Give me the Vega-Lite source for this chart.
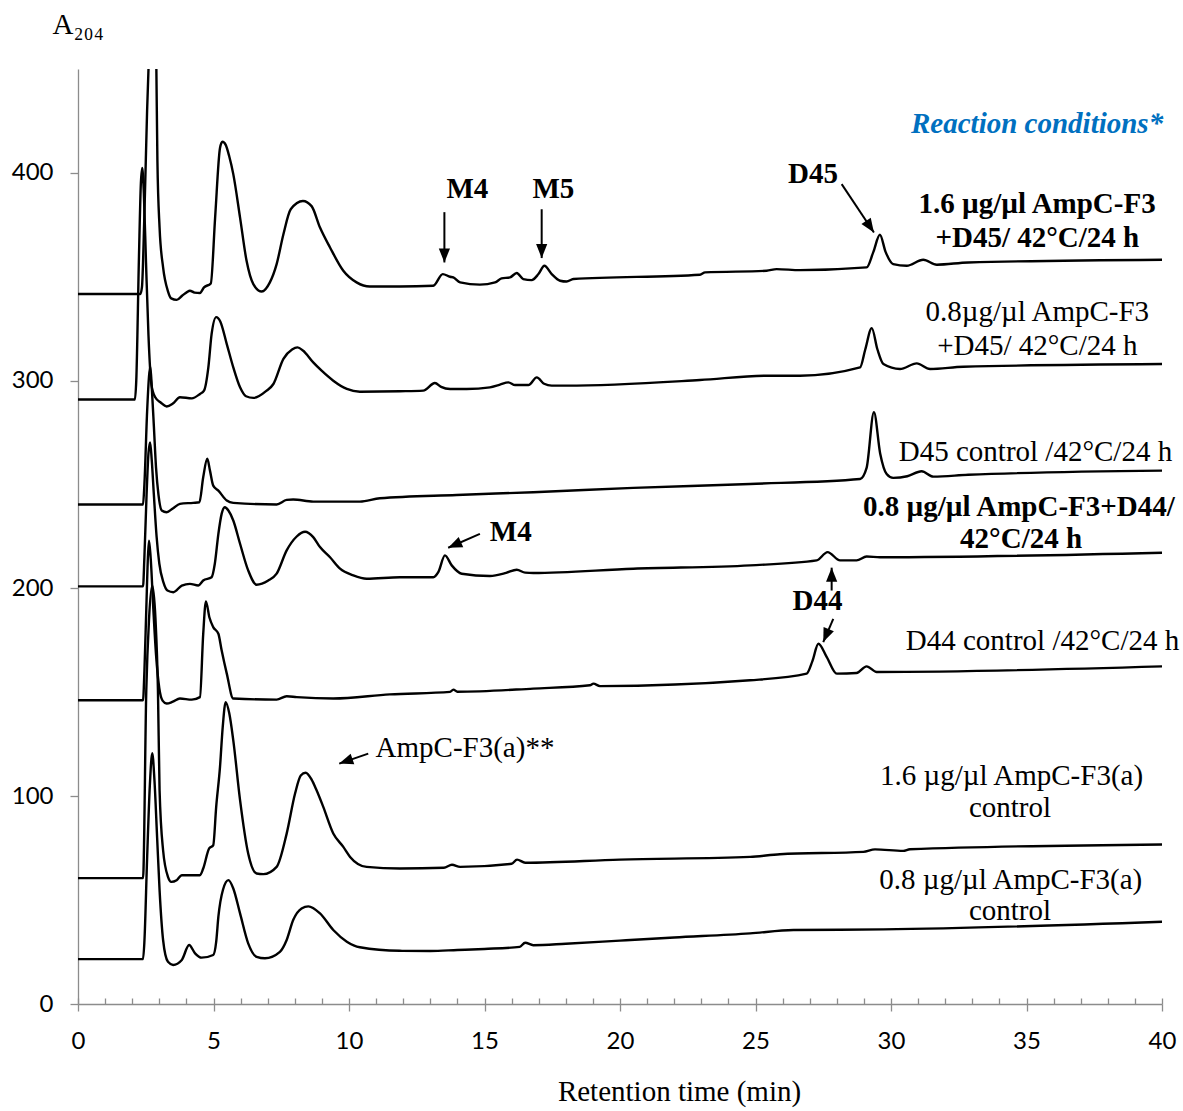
{
  "$schema": "https://vega.github.io/schema/vega-lite/v6.json",
  "width": 1084,
  "height": 935,
  "autosize": {"type": "none"},
  "padding": {"left": 78, "top": 69, "right": 21, "bottom": 107},
  "background": "white",
  "config": {"view": {"stroke": null}, "axis": {"grid": false}},
  "datasets": {
    "traces": [
      {"trace":"1.6+D45","time":0,"abs":341.7},{"trace":"1.6+D45","time":2.30,"abs":341.7},{"trace":"1.6+D45","time":2.36,"abs":345},{"trace":"1.6+D45","time":2.45,"abs":380},{"trace":"1.6+D45","time":2.55,"abs":430},{"trace":"1.6+D45","time":2.64,"abs":465},{"trace":"1.6+D45","time":2.77,"abs":530},{"trace":"1.6+D45","time":2.89,"abs":452},{"trace":"1.6+D45","time":2.93,"abs":406},{"trace":"1.6+D45","time":3.01,"abs":373.7},{"trace":"1.6+D45","time":3.14,"abs":354.5},{"trace":"1.6+D45","time":3.32,"abs":343},{"trace":"1.6+D45","time":3.44,"abs":339.6},{"trace":"1.6+D45","time":3.64,"abs":338.9},{"trace":"1.6+D45","time":3.85,"abs":341},{"trace":"1.6+D45","time":4.01,"abs":342.5},{"trace":"1.6+D45","time":4.13,"abs":343.3},{"trace":"1.6+D45","time":4.3,"abs":342.4},{"trace":"1.6+D45","time":4.5,"abs":342.2},{"trace":"1.6+D45","time":4.65,"abs":344.9},{"trace":"1.6+D45","time":4.9,"abs":346.8},{"trace":"1.6+D45","time":5.06,"abs":378.5},{"trace":"1.6+D45","time":5.24,"abs":412},{"trace":"1.6+D45","time":5.33,"abs":415},{"trace":"1.6+D45","time":5.45,"abs":413.5},{"trace":"1.6+D45","time":5.58,"abs":408},{"trace":"1.6+D45","time":5.73,"abs":399.4},{"trace":"1.6+D45","time":5.98,"abs":378.5},{"trace":"1.6+D45","time":6.22,"abs":357.7},{"trace":"1.6+D45","time":6.47,"abs":346.5},{"trace":"1.6+D45","time":6.78,"abs":342.9},{"trace":"1.6+D45","time":7.08,"abs":347.3},{"trace":"1.6+D45","time":7.33,"abs":356.1},{"trace":"1.6+D45","time":7.58,"abs":370.5},{"trace":"1.6+D45","time":7.85,"abs":382.5},{"trace":"1.6+D45","time":8.3,"abs":386.5},{"trace":"1.6+D45","time":8.62,"abs":384},{"trace":"1.6+D45","time":8.93,"abs":373.7},{"trace":"1.6+D45","time":9.30,"abs":364.1},{"trace":"1.6+D45","time":9.79,"abs":352.9},{"trace":"1.6+D45","time":10.28,"abs":347.3},{"trace":"1.6+D45","time":10.77,"abs":345.3},{"trace":"1.6+D45","time":11.88,"abs":345.3},{"trace":"1.6+D45","time":13.11,"abs":345.7},{"trace":"1.6+D45","time":13.46,"abs":351.3},{"trace":"1.6+D45","time":13.73,"abs":350},{"trace":"1.6+D45","time":13.85,"abs":349.7},{"trace":"1.6+D45","time":14.1,"abs":347.3},{"trace":"1.6+D45","time":14.83,"abs":346.2},{"trace":"1.6+D45","time":15.39,"abs":347.3},{"trace":"1.6+D45","time":15.63,"abs":349.2},{"trace":"1.6+D45","time":15.94,"abs":349.7},{"trace":"1.6+D45","time":16.19,"abs":351.8},{"trace":"1.6+D45","time":16.43,"abs":348.9},{"trace":"1.6+D45","time":16.74,"abs":348.4},{"trace":"1.6+D45","time":16.99,"abs":351.3},{"trace":"1.6+D45","time":17.21,"abs":355.3},{"trace":"1.6+D45","time":17.48,"abs":351.3},{"trace":"1.6+D45","time":17.79,"abs":348.1},{"trace":"1.6+D45","time":18.03,"abs":347.7},{"trace":"1.6+D45","time":18.28,"abs":348.9},{"trace":"1.6+D45","time":22.95,"abs":351},{"trace":"1.6+D45","time":23.14,"abs":352.1},{"trace":"1.6+D45","time":25.41,"abs":352.9},{"trace":"1.6+D45","time":25.78,"abs":353.7},{"trace":"1.6+D45","time":26.64,"abs":353.2},{"trace":"1.6+D45","time":29.1,"abs":354.5},{"trace":"1.6+D45","time":29.35,"abs":362},{"trace":"1.6+D45","time":29.59,"abs":370.2},{"trace":"1.6+D45","time":29.8,"abs":362},{"trace":"1.6+D45","time":30.08,"abs":356.1},{"trace":"1.6+D45","time":30.58,"abs":355.3},{"trace":"1.6+D45","time":31.19,"abs":358.2},{"trace":"1.6+D45","time":31.69,"abs":355.8},{"trace":"1.6+D45","time":32.85,"abs":356.9},{"trace":"1.6+D45","time":40,"abs":358.2},

      {"trace":"0.8+D45","time":0,"abs":290.9},{"trace":"0.8+D45","time":2.10,"abs":290.9},{"trace":"0.8+D45","time":2.15,"abs":300},{"trace":"0.8+D45","time":2.25,"abs":360},{"trace":"0.8+D45","time":2.32,"abs":395},{"trace":"0.8+D45","time":2.37,"abs":402.4},{"trace":"0.8+D45","time":2.43,"abs":390},{"trace":"0.8+D45","time":2.51,"abs":356.7},{"trace":"0.8+D45","time":2.60,"abs":322},{"trace":"0.8+D45","time":2.71,"abs":298},{"trace":"0.8+D45","time":2.85,"abs":292},{"trace":"0.8+D45","time":3.05,"abs":289.5},{"trace":"0.8+D45","time":3.27,"abs":287.6},{"trace":"0.8+D45","time":3.5,"abs":289},{"trace":"0.8+D45","time":3.76,"abs":292},{"trace":"0.8+D45","time":4.2,"abs":291.5},{"trace":"0.8+D45","time":4.5,"abs":293.6},{"trace":"0.8+D45","time":4.65,"abs":295.2},{"trace":"0.8+D45","time":4.81,"abs":306.4},{"trace":"0.8+D45","time":4.93,"abs":322.4},{"trace":"0.8+D45","time":5.1,"abs":330.6},{"trace":"0.8+D45","time":5.25,"abs":328.5},{"trace":"0.8+D45","time":5.49,"abs":317.6},{"trace":"0.8+D45","time":5.73,"abs":306.4},{"trace":"0.8+D45","time":5.98,"abs":296.8},{"trace":"0.8+D45","time":6.2,"abs":292.5},{"trace":"0.8+D45","time":6.47,"abs":291.7},{"trace":"0.8+D45","time":6.96,"abs":295.2},{"trace":"0.8+D45","time":7.21,"abs":298.4},{"trace":"0.8+D45","time":7.58,"abs":310.5},{"trace":"0.8+D45","time":7.9,"abs":315},{"trace":"0.8+D45","time":8.1,"abs":316},{"trace":"0.8+D45","time":8.3,"abs":314.5},{"trace":"0.8+D45","time":8.68,"abs":308.8},{"trace":"0.8+D45","time":8.99,"abs":304.8},{"trace":"0.8+D45","time":9.42,"abs":300},{"trace":"0.8+D45","time":9.92,"abs":296},{"trace":"0.8+D45","time":10.4,"abs":294.7},{"trace":"0.8+D45","time":11.88,"abs":294.9},{"trace":"0.8+D45","time":12.74,"abs":295.2},{"trace":"0.8+D45","time":13.17,"abs":298.9},{"trace":"0.8+D45","time":13.4,"abs":297},{"trace":"0.8+D45","time":13.73,"abs":296},{"trace":"0.8+D45","time":14.34,"abs":296},{"trace":"0.8+D45","time":15.2,"abs":296.8},{"trace":"0.8+D45","time":15.57,"abs":298.1},{"trace":"0.8+D45","time":15.88,"abs":299.2},{"trace":"0.8+D45","time":16.13,"abs":297.9},{"trace":"0.8+D45","time":16.62,"abs":297.9},{"trace":"0.8+D45","time":16.93,"abs":301.6},{"trace":"0.8+D45","time":17.2,"abs":298.5},{"trace":"0.8+D45","time":17.48,"abs":297.6},{"trace":"0.8+D45","time":18.03,"abs":297.6},{"trace":"0.8+D45","time":22.95,"abs":300.3},{"trace":"0.8+D45","time":25.41,"abs":302.4},{"trace":"0.8+D45","time":26.64,"abs":302.4},{"trace":"0.8+D45","time":28.86,"abs":306.4},{"trace":"0.8+D45","time":29.05,"abs":315},{"trace":"0.8+D45","time":29.29,"abs":325.3},{"trace":"0.8+D45","time":29.5,"abs":315},{"trace":"0.8+D45","time":29.72,"abs":308},{"trace":"0.8+D45","time":30.33,"abs":305.6},{"trace":"0.8+D45","time":30.95,"abs":308.3},{"trace":"0.8+D45","time":31.44,"abs":305.6},{"trace":"0.8+D45","time":32.67,"abs":306.7},{"trace":"0.8+D45","time":40,"abs":308},

      {"trace":"D45 ctrl","time":0,"abs":240.4},{"trace":"D45 ctrl","time":2.40,"abs":240.4},{"trace":"D45 ctrl","time":2.45,"abs":250},{"trace":"D45 ctrl","time":2.55,"abs":285},{"trace":"D45 ctrl","time":2.62,"abs":302},{"trace":"D45 ctrl","time":2.67,"abs":306.7},{"trace":"D45 ctrl","time":2.73,"abs":295},{"trace":"D45 ctrl","time":2.8,"abs":278},{"trace":"D45 ctrl","time":2.88,"abs":258},{"trace":"D45 ctrl","time":2.97,"abs":245},{"trace":"D45 ctrl","time":3.09,"abs":237.5},{"trace":"D45 ctrl","time":3.27,"abs":236.7},{"trace":"D45 ctrl","time":3.5,"abs":238.5},{"trace":"D45 ctrl","time":3.76,"abs":240.7},{"trace":"D45 ctrl","time":4.25,"abs":241.2},{"trace":"D45 ctrl","time":4.48,"abs":241.5},{"trace":"D45 ctrl","time":4.62,"abs":253.5},{"trace":"D45 ctrl","time":4.77,"abs":262.4},{"trace":"D45 ctrl","time":4.87,"abs":256.7},{"trace":"D45 ctrl","time":4.99,"abs":249.5},{"trace":"D45 ctrl","time":5.18,"abs":247.1},{"trace":"D45 ctrl","time":5.49,"abs":242.3},{"trace":"D45 ctrl","time":5.73,"abs":241.2},{"trace":"D45 ctrl","time":7.33,"abs":240.4},{"trace":"D45 ctrl","time":7.7,"abs":242.6},{"trace":"D45 ctrl","time":7.94,"abs":242.8},{"trace":"D45 ctrl","time":8.68,"abs":241.8},{"trace":"D45 ctrl","time":10.4,"abs":241.8},{"trace":"D45 ctrl","time":11.14,"abs":243.4},{"trace":"D45 ctrl","time":13.97,"abs":245},{"trace":"D45 ctrl","time":16.8,"abs":246.3},{"trace":"D45 ctrl","time":20.49,"abs":248.4},{"trace":"D45 ctrl","time":24.8,"abs":250.3},{"trace":"D45 ctrl","time":28.86,"abs":252.7},{"trace":"D45 ctrl","time":29.1,"abs":258},{"trace":"D45 ctrl","time":29.37,"abs":284.8},{"trace":"D45 ctrl","time":29.6,"abs":265},{"trace":"D45 ctrl","time":29.84,"abs":255.1},{"trace":"D45 ctrl","time":30.08,"abs":253.2},{"trace":"D45 ctrl","time":30.6,"abs":254},{"trace":"D45 ctrl","time":31.13,"abs":256.4},{"trace":"D45 ctrl","time":31.56,"abs":253.8},{"trace":"D45 ctrl","time":32.85,"abs":254.7},{"trace":"D45 ctrl","time":40,"abs":256.7},

      {"trace":"0.8+D44","time":0,"abs":201},{"trace":"0.8+D44","time":2.40,"abs":201},{"trace":"0.8+D44","time":2.45,"abs":215},{"trace":"0.8+D44","time":2.53,"abs":245},{"trace":"0.8+D44","time":2.60,"abs":265},{"trace":"0.8+D44","time":2.66,"abs":270.3},{"trace":"0.8+D44","time":2.72,"abs":262},{"trace":"0.8+D44","time":2.8,"abs":245},{"trace":"0.8+D44","time":2.9,"abs":225},{"trace":"0.8+D44","time":3.0,"abs":212},{"trace":"0.8+D44","time":3.15,"abs":203},{"trace":"0.8+D44","time":3.3,"abs":199},{"trace":"0.8+D44","time":3.52,"abs":198.2},{"trace":"0.8+D44","time":3.83,"abs":201.4},{"trace":"0.8+D44","time":4.13,"abs":202.2},{"trace":"0.8+D44","time":4.44,"abs":201.4},{"trace":"0.8+D44","time":4.62,"abs":203.8},{"trace":"0.8+D44","time":4.93,"abs":205.4},{"trace":"0.8+D44","time":5.05,"abs":212},{"trace":"0.8+D44","time":5.18,"abs":226.3},{"trace":"0.8+D44","time":5.3,"abs":235.9},{"trace":"0.8+D44","time":5.42,"abs":239.1},{"trace":"0.8+D44","time":5.55,"abs":237.5},{"trace":"0.8+D44","time":5.73,"abs":232.7},{"trace":"0.8+D44","time":5.98,"abs":221.5},{"trace":"0.8+D44","time":6.28,"abs":208.7},{"trace":"0.8+D44","time":6.59,"abs":201.8},{"trace":"0.8+D44","time":7.02,"abs":203.8},{"trace":"0.8+D44","time":7.33,"abs":207.1},{"trace":"0.8+D44","time":7.7,"abs":218.3},{"trace":"0.8+D44","time":8.07,"abs":225},{"trace":"0.8+D44","time":8.38,"abs":227.3},{"trace":"0.8+D44","time":8.68,"abs":224.7},{"trace":"0.8+D44","time":8.93,"abs":219.9},{"trace":"0.8+D44","time":9.3,"abs":215},{"trace":"0.8+D44","time":9.67,"abs":209.5},{"trace":"0.8+D44","time":10.16,"abs":206.3},{"trace":"0.8+D44","time":10.65,"abs":204.7},{"trace":"0.8+D44","time":11.88,"abs":205.4},{"trace":"0.8+D44","time":13.11,"abs":205.4},{"trace":"0.8+D44","time":13.3,"abs":208},{"trace":"0.8+D44","time":13.54,"abs":215.9},{"trace":"0.8+D44","time":13.79,"abs":211.1},{"trace":"0.8+D44","time":14.16,"abs":207.1},{"trace":"0.8+D44","time":15.2,"abs":206},{"trace":"0.8+D44","time":15.8,"abs":207.5},{"trace":"0.8+D44","time":16.19,"abs":209},{"trace":"0.8+D44","time":16.5,"abs":207.6},{"trace":"0.8+D44","time":16.8,"abs":207.4},{"trace":"0.8+D44","time":20.49,"abs":209.5},{"trace":"0.8+D44","time":24.8,"abs":211.1},{"trace":"0.8+D44","time":27.26,"abs":213.5},{"trace":"0.8+D44","time":27.66,"abs":217.5},{"trace":"0.8+D44","time":28.12,"abs":213.5},{"trace":"0.8+D44","time":28.73,"abs":213.5},{"trace":"0.8+D44","time":29.1,"abs":215.4},{"trace":"0.8+D44","time":29.59,"abs":215},{"trace":"0.8+D44","time":40,"abs":217.2},

      {"trace":"D44 ctrl","time":0,"abs":146.2},{"trace":"D44 ctrl","time":2.40,"abs":146.2},{"trace":"D44 ctrl","time":2.45,"abs":160},{"trace":"D44 ctrl","time":2.52,"abs":190},{"trace":"D44 ctrl","time":2.58,"abs":215},{"trace":"D44 ctrl","time":2.62,"abs":223},{"trace":"D44 ctrl","time":2.68,"abs":215},{"trace":"D44 ctrl","time":2.78,"abs":190},{"trace":"D44 ctrl","time":2.88,"abs":168},{"trace":"D44 ctrl","time":3.0,"abs":152},{"trace":"D44 ctrl","time":3.12,"abs":146},{"trace":"D44 ctrl","time":3.27,"abs":144.6},{"trace":"D44 ctrl","time":3.5,"abs":145.5},{"trace":"D44 ctrl","time":3.76,"abs":147},{"trace":"D44 ctrl","time":4.2,"abs":146.5},{"trace":"D44 ctrl","time":4.5,"abs":147.7},{"trace":"D44 ctrl","time":4.62,"abs":178},{"trace":"D44 ctrl","time":4.72,"abs":193.8},{"trace":"D44 ctrl","time":4.85,"abs":186},{"trace":"D44 ctrl","time":4.99,"abs":181.4},{"trace":"D44 ctrl","time":5.18,"abs":178.2},{"trace":"D44 ctrl","time":5.3,"abs":170.2},{"trace":"D44 ctrl","time":5.49,"abs":159},{"trace":"D44 ctrl","time":5.73,"abs":147},{"trace":"D44 ctrl","time":7.33,"abs":146.5},{"trace":"D44 ctrl","time":7.7,"abs":148.1},{"trace":"D44 ctrl","time":8.07,"abs":147.7},{"trace":"D44 ctrl","time":9.42,"abs":147},{"trace":"D44 ctrl","time":11.51,"abs":149},{"trace":"D44 ctrl","time":13.73,"abs":150.2},{"trace":"D44 ctrl","time":13.85,"abs":151.3},{"trace":"D44 ctrl","time":14.0,"abs":150.3},{"trace":"D44 ctrl","time":16.8,"abs":151.8},{"trace":"D44 ctrl","time":18.89,"abs":153.4},{"trace":"D44 ctrl","time":19.02,"abs":154.2},{"trace":"D44 ctrl","time":19.26,"abs":153},{"trace":"D44 ctrl","time":24.8,"abs":155.8},{"trace":"D44 ctrl","time":26.89,"abs":159},{"trace":"D44 ctrl","time":27.1,"abs":165},{"trace":"D44 ctrl","time":27.32,"abs":173.4},{"trace":"D44 ctrl","time":27.63,"abs":167},{"trace":"D44 ctrl","time":28.0,"abs":159},{"trace":"D44 ctrl","time":28.73,"abs":159.3},{"trace":"D44 ctrl","time":29.1,"abs":162.5},{"trace":"D44 ctrl","time":29.47,"abs":159.8},{"trace":"D44 ctrl","time":40,"abs":162.5},

      {"trace":"1.6 F3a ctrl","time":0,"abs":60.6},{"trace":"1.6 F3a ctrl","time":2.40,"abs":60.6},{"trace":"1.6 F3a ctrl","time":2.52,"abs":151},{"trace":"1.6 F3a ctrl","time":2.62,"abs":185},{"trace":"1.6 F3a ctrl","time":2.74,"abs":201.4},{"trace":"1.6 F3a ctrl","time":2.86,"abs":185},{"trace":"1.6 F3a ctrl","time":2.95,"abs":151},{"trace":"1.6 F3a ctrl","time":3.01,"abs":102.9},{"trace":"1.6 F3a ctrl","time":3.14,"abs":74},{"trace":"1.6 F3a ctrl","time":3.32,"abs":61.2},{"trace":"1.6 F3a ctrl","time":3.44,"abs":58.8},{"trace":"1.6 F3a ctrl","time":3.64,"abs":59.6},{"trace":"1.6 F3a ctrl","time":3.83,"abs":62},{"trace":"1.6 F3a ctrl","time":4.5,"abs":62},{"trace":"1.6 F3a ctrl","time":4.62,"abs":65.2},{"trace":"1.6 F3a ctrl","time":4.84,"abs":74.9},{"trace":"1.6 F3a ctrl","time":4.99,"abs":76.4},{"trace":"1.6 F3a ctrl","time":5.1,"abs":95},{"trace":"1.6 F3a ctrl","time":5.24,"abs":114.1},{"trace":"1.6 F3a ctrl","time":5.34,"abs":133.3},{"trace":"1.6 F3a ctrl","time":5.45,"abs":145.3},{"trace":"1.6 F3a ctrl","time":5.58,"abs":140},{"trace":"1.6 F3a ctrl","time":5.73,"abs":126.9},{"trace":"1.6 F3a ctrl","time":5.98,"abs":98.1},{"trace":"1.6 F3a ctrl","time":6.28,"abs":72.4},{"trace":"1.6 F3a ctrl","time":6.59,"abs":62.8},{"trace":"1.6 F3a ctrl","time":6.84,"abs":62.5},{"trace":"1.6 F3a ctrl","time":7.33,"abs":66},{"trace":"1.6 F3a ctrl","time":7.7,"abs":82},{"trace":"1.6 F3a ctrl","time":8.01,"abs":101.3},{"trace":"1.6 F3a ctrl","time":8.22,"abs":110},{"trace":"1.6 F3a ctrl","time":8.4,"abs":111.3},{"trace":"1.6 F3a ctrl","time":8.62,"abs":108},{"trace":"1.6 F3a ctrl","time":8.8,"abs":103},{"trace":"1.6 F3a ctrl","time":9.05,"abs":94.9},{"trace":"1.6 F3a ctrl","time":9.42,"abs":82.1},{"trace":"1.6 F3a ctrl","time":9.79,"abs":75.6},{"trace":"1.6 F3a ctrl","time":10.04,"abs":70.8},{"trace":"1.6 F3a ctrl","time":10.65,"abs":66},{"trace":"1.6 F3a ctrl","time":11.88,"abs":65.2},{"trace":"1.6 F3a ctrl","time":13.5,"abs":65.6},{"trace":"1.6 F3a ctrl","time":13.8,"abs":67},{"trace":"1.6 F3a ctrl","time":14.1,"abs":66},{"trace":"1.6 F3a ctrl","time":16.0,"abs":67.5},{"trace":"1.6 F3a ctrl","time":16.2,"abs":69.5},{"trace":"1.6 F3a ctrl","time":16.5,"abs":68},{"trace":"1.6 F3a ctrl","time":20,"abs":69.5},{"trace":"1.6 F3a ctrl","time":24.8,"abs":70.8},{"trace":"1.6 F3a ctrl","time":25.9,"abs":72.1},{"trace":"1.6 F3a ctrl","time":28.98,"abs":73.2},{"trace":"1.6 F3a ctrl","time":29.41,"abs":74.4},{"trace":"1.6 F3a ctrl","time":30.45,"abs":73.7},{"trace":"1.6 F3a ctrl","time":30.7,"abs":74.5},{"trace":"1.6 F3a ctrl","time":40,"abs":76.8},

      {"trace":"0.8 F3a ctrl","time":0,"abs":21.6},{"trace":"0.8 F3a ctrl","time":2.40,"abs":21.6},{"trace":"0.8 F3a ctrl","time":2.45,"abs":30},{"trace":"0.8 F3a ctrl","time":2.55,"abs":70},{"trace":"0.8 F3a ctrl","time":2.65,"abs":105},{"trace":"0.8 F3a ctrl","time":2.74,"abs":120.7},{"trace":"0.8 F3a ctrl","time":2.82,"abs":108},{"trace":"0.8 F3a ctrl","time":2.92,"abs":80},{"trace":"0.8 F3a ctrl","time":3.01,"abs":54.8},{"trace":"0.8 F3a ctrl","time":3.14,"abs":30.8},{"trace":"0.8 F3a ctrl","time":3.32,"abs":20.3},{"trace":"0.8 F3a ctrl","time":3.51,"abs":18.8},{"trace":"0.8 F3a ctrl","time":3.83,"abs":21.2},{"trace":"0.8 F3a ctrl","time":4.1,"abs":28.4},{"trace":"0.8 F3a ctrl","time":4.32,"abs":24.4},{"trace":"0.8 F3a ctrl","time":4.56,"abs":22.3},{"trace":"0.8 F3a ctrl","time":4.99,"abs":23.6},{"trace":"0.8 F3a ctrl","time":5.1,"abs":30},{"trace":"0.8 F3a ctrl","time":5.18,"abs":42},{"trace":"0.8 F3a ctrl","time":5.35,"abs":55},{"trace":"0.8 F3a ctrl","time":5.55,"abs":59.6},{"trace":"0.8 F3a ctrl","time":5.73,"abs":55.6},{"trace":"0.8 F3a ctrl","time":5.98,"abs":43.6},{"trace":"0.8 F3a ctrl","time":6.28,"abs":29.2},{"trace":"0.8 F3a ctrl","time":6.59,"abs":22.7},{"trace":"0.8 F3a ctrl","time":6.9,"abs":22},{"trace":"0.8 F3a ctrl","time":7.45,"abs":25.1},{"trace":"0.8 F3a ctrl","time":7.7,"abs":30.8},{"trace":"0.8 F3a ctrl","time":7.94,"abs":40.4},{"trace":"0.8 F3a ctrl","time":8.25,"abs":46},{"trace":"0.8 F3a ctrl","time":8.5,"abs":47},{"trace":"0.8 F3a ctrl","time":8.93,"abs":43.6},{"trace":"0.8 F3a ctrl","time":9.42,"abs":35.6},{"trace":"0.8 F3a ctrl","time":9.92,"abs":30},{"trace":"0.8 F3a ctrl","time":10.4,"abs":27.3},{"trace":"0.8 F3a ctrl","time":11.88,"abs":25.6},{"trace":"0.8 F3a ctrl","time":13,"abs":25.5},{"trace":"0.8 F3a ctrl","time":14,"abs":26},{"trace":"0.8 F3a ctrl","time":15,"abs":26.5},{"trace":"0.8 F3a ctrl","time":16.3,"abs":27.5},{"trace":"0.8 F3a ctrl","time":16.5,"abs":29.5},{"trace":"0.8 F3a ctrl","time":16.8,"abs":28.3},{"trace":"0.8 F3a ctrl","time":18,"abs":29},{"trace":"0.8 F3a ctrl","time":20,"abs":30.5},{"trace":"0.8 F3a ctrl","time":22,"abs":32},{"trace":"0.8 F3a ctrl","time":24.8,"abs":34},{"trace":"0.8 F3a ctrl","time":26.4,"abs":35.6},{"trace":"0.8 F3a ctrl","time":29.72,"abs":35.9},{"trace":"0.8 F3a ctrl","time":40,"abs":39.6}
    ],
    "labelsRegular": [
      {"text":"0.8µg/µl AmpC-F3","time":35.4,"abs":333.2},
      {"text":"+D45/ 42°C/24 h","time":35.4,"abs":316.8},
      {"text":"D45 control /42°C/24 h","time":35.33,"abs":265.9},
      {"text":"D44 control /42°C/24 h","time":35.59,"abs":174.5},
      {"text":"1.6 µg/µl AmpC-F3(a)","time":34.45,"abs":109.6},
      {"text":"control","time":34.39,"abs":94.2},
      {"text":"0.8 µg/µl AmpC-F3(a)","time":34.42,"abs":59.6},
      {"text":"control","time":34.39,"abs":44.7},
      {"text":"AmpC-F3(a)**","time":14.28,"abs":123.1}
    ],
    "labelsBold": [
      {"text":"1.6 µg/µl AmpC-F3","time":35.39,"abs":385.1},
      {"text":"+D45/ 42°C/24 h","time":35.4,"abs":368.8},
      {"text":"0.8 µg/µl AmpC-F3+D44/","time":34.72,"abs":239.4},
      {"text":"42°C/24 h","time":34.8,"abs":223.6},
      {"text":"M4","time":14.37,"abs":392.3},
      {"text":"M5","time":17.54,"abs":392.3},
      {"text":"M4","time":15.97,"abs":227.4},
      {"text":"D45","time":27.12,"abs":399.5},
      {"text":"D44","time":27.29,"abs":193.8}
    ],
    "labelsTitle": [
      {"text":"Reaction conditions*","time":35.39,"abs":423.6}
    ],
    "arrows": [
      {"x0":13.52,"y0":381.1,"x1":13.52,"y1":356.9,"angle":180},
      {"x0":17.11,"y0":382.5,"x1":17.11,"y1":359.0,"angle":180},
      {"x0":28.18,"y0":394.6,"x1":29.37,"y1":371.3,"angle":146},
      {"x0":14.83,"y0":226.3,"x1":13.66,"y1":219.6,"angle":246},
      {"x0":10.71,"y0":120.5,"x1":9.64,"y1":115.7,"angle":251},
      {"x0":27.81,"y0":199.0,"x1":27.81,"y1":210.0,"angle":0},
      {"x0":27.87,"y0":185.4,"x1":27.5,"y1":174.2,"angle":203}
    ]
  },
  "resolve": {"axis": {"x": "independent", "y": "independent"}},
  "layer": [
    {
      "data": {"name": "traces"},
      "mark": {"type": "line", "color": "black", "strokeWidth": 2.4, "clip": true, "interpolate": "monotone"},
      "encoding": {
        "x": {
          "field": "time", "type": "quantitative",
          "scale": {"domain": [0, 40], "nice": false, "zero": false},
          "axis": {
            "values": [0, 5, 10, 15, 20, 25, 30, 35, 40],
            "tickSize": 7, "tickColor": "#8c8c8c", "tickWidth": 1.3,
            "domainColor": "#8c8c8c", "domainWidth": 1.3,
            "labelFont": "Lato", "labelFontSize": 24, "labelColor": "black",
            "labelPadding": 18, "labelFlush": false,
            "title": "Retention time (min)", "titleFont": "Liberation Serif", "titleFontSize": 29,
            "titleFontWeight": "normal", "titleColor": "black",
            "titleX": 601, "titleY": 96, "titleAlign": "center", "titleBaseline": "alphabetic"
          }
        },
        "y": {
          "field": "abs", "type": "quantitative",
          "scale": {"domain": [0, 450], "nice": false},
          "axis": {
            "values": [0, 100, 200, 300, 400],
            "tickSize": 8, "tickColor": "#8c8c8c", "tickWidth": 1.3,
            "domainColor": "#8c8c8c", "domainWidth": 1.3,
            "labelFont": "Lato", "labelFontSize": 24, "labelColor": "black",
            "labelPadding": 17, "labelFlush": false,
            "title": "A₂₀₄", "titleAngle": 0, "titleAlign": "left", "titleBaseline": "alphabetic",
            "titleX": -26, "titleY": -36,
            "titleFont": "Liberation Serif", "titleFontSize": 29, "titleFontWeight": "normal", "titleColor": "black"
          }
        },
        "detail": {"field": "trace", "type": "nominal"}
      }
    },
    {
      "data": {"name": "arrows"},
      "mark": {"type": "rule", "color": "black", "strokeWidth": 2},
      "encoding": {
        "x": {
          "field": "x0", "type": "quantitative",
          "scale": {"domain": [0, 40], "nice": false, "zero": false},
          "axis": {
            "orient": "bottom", "offset": -6,
            "values": [0,1,2,3,4,5,6,7,8,9,10,11,12,13,14,15,16,17,18,19,20,21,22,23,24,25,26,27,28,29,30,31,32,33,34,35,36,37,38,39,40],
            "tickSize": 6, "tickColor": "#8c8c8c", "tickWidth": 1.3,
            "domain": false, "labels": false, "title": null
          }
        },
        "y": {"field": "y0", "type": "quantitative", "scale": {"domain": [0, 450], "nice": false}, "axis": null},
        "x2": {"field": "x1"},
        "y2": {"field": "y1"}
      }
    },
    {
      "data": {"name": "arrows"},
      "mark": {"type": "point", "shape": "M0,0L-0.8,2L0.8,2Z", "filled": true, "color": "black", "opacity": 1, "size": 196, "strokeWidth": 0},
      "encoding": {
        "x": {"field": "x1", "type": "quantitative", "scale": {"domain": [0, 40], "nice": false, "zero": false}, "axis": null},
        "y": {"field": "y1", "type": "quantitative", "scale": {"domain": [0, 450], "nice": false}, "axis": null},
        "angle": {"field": "angle", "type": "quantitative", "scale": null}
      }
    },
    {
      "data": {"name": "labelsRegular"},
      "mark": {"type": "text", "font": "Liberation Serif", "fontSize": 29, "align": "center", "baseline": "middle", "color": "black"},
      "encoding": {
        "x": {"field": "time", "type": "quantitative", "scale": {"domain": [0, 40], "nice": false, "zero": false}, "axis": null},
        "y": {"field": "abs", "type": "quantitative", "scale": {"domain": [0, 450], "nice": false}, "axis": null},
        "text": {"field": "text"}
      }
    },
    {
      "data": {"name": "labelsBold"},
      "mark": {"type": "text", "font": "Liberation Serif", "fontSize": 29, "fontWeight": "bold", "align": "center", "baseline": "middle", "color": "black"},
      "encoding": {
        "x": {"field": "time", "type": "quantitative", "scale": {"domain": [0, 40], "nice": false, "zero": false}, "axis": null},
        "y": {"field": "abs", "type": "quantitative", "scale": {"domain": [0, 450], "nice": false}, "axis": null},
        "text": {"field": "text"}
      }
    },
    {
      "data": {"name": "labelsTitle"},
      "mark": {"type": "text", "font": "Liberation Serif", "fontSize": 29, "fontWeight": "bold", "fontStyle": "italic", "align": "center", "baseline": "middle", "color": "#0070C0"},
      "encoding": {
        "x": {"field": "time", "type": "quantitative", "scale": {"domain": [0, 40], "nice": false, "zero": false}, "axis": null},
        "y": {"field": "abs", "type": "quantitative", "scale": {"domain": [0, 450], "nice": false}, "axis": null},
        "text": {"field": "text"}
      }
    }
  ]
}
